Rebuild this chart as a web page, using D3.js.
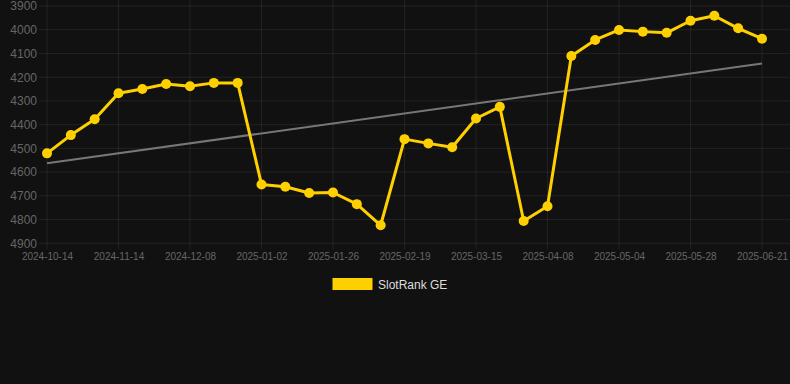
<!DOCTYPE html>
<html>
<head>
<meta charset="utf-8">
<script src="https://cdn.jsdelivr.net/npm/d3@7"></script>
<style>
  html, body { margin: 0; padding: 0; background: #111111; }
  svg { display: block; font-family: "Liberation Sans", Arial, Helvetica, sans-serif; }
</style>
</head>
<body>
<svg id="chart" width="790" height="384"></svg>
<script>
const dates = [
  "2024-10-14","2024-10-24","2024-11-03","2024-11-14","2024-11-22","2024-11-30",
  "2024-12-08","2024-12-16","2024-12-24","2025-01-02","2025-01-10","2025-01-18",
  "2025-01-26","2025-02-03","2025-02-11","2025-02-19","2025-02-27","2025-03-07",
  "2025-03-15","2025-03-23","2025-03-31","2025-04-08","2025-04-16","2025-04-26",
  "2025-05-04","2025-05-12","2025-05-20","2025-05-28","2025-06-05","2025-06-13",
  "2025-06-21"
];
const rankValues = [
  4521, 4444, 4377, 4268, 4250, 4229, 4238, 4224, 4224,
  4652, 4662, 4688, 4686, 4735, 4824,
  4461, 4479, 4495, 4374, 4325,
  4806, 4744,
  4111, 4043, 4001, 4008, 4013, 3962, 3941, 3994, 4038
];
const trendValues = [4563, 4142];
const yTicks = [3900, 4000, 4100, 4200, 4300, 4400, 4500, 4600, 4700, 4800, 4900];
const xTickLabels = ["2024-10-14","2024-11-14","2024-12-08","2025-01-02","2025-01-26",
  "2025-02-19","2025-03-15","2025-04-08","2025-05-04","2025-05-28","2025-06-21"];
const seriesName = "SlotRank GE";

const svg = d3.select("#chart");
const plotLeft = 47, plotRight = 762, plotTop = 6, plotBottom = 243.3, gridRight = 790;

const x = d3.scalePoint().domain(dates).range([plotLeft, plotRight]);
const y = d3.scaleLinear().domain([3900, 4900]).range([plotTop, plotBottom]);

const gridColor = "rgba(255,255,255,0.07)";

// horizontal grid
svg.append("g").selectAll("line").data(yTicks).join("line")
  .attr("x1", 39).attr("x2", gridRight)
  .attr("y1", d => y(d)).attr("y2", d => y(d))
  .attr("stroke", gridColor).attr("stroke-width", 1);

// vertical grid
svg.append("g").selectAll("line").data(xTickLabels).join("line")
  .attr("x1", d => x(d)).attr("x2", d => x(d))
  .attr("y1", 0).attr("y2", plotBottom + 6)
  .attr("stroke", gridColor).attr("stroke-width", 1);

// y axis labels
const yAxis = d3.axisLeft(y).tickValues(yTicks).tickSize(0).tickPadding(0).tickFormat(d3.format("d"));
const gy = svg.append("g").attr("transform", "translate(37,0)").call(yAxis);
gy.select(".domain").remove();
gy.selectAll("text").attr("fill", "#666").attr("font-size", 12)
  .attr("font-family", "Liberation Sans, Arial, sans-serif");

// x axis labels
const xAxis = d3.axisBottom(x).tickValues(xTickLabels).tickSize(0).tickPadding(0);
const gx = svg.append("g").attr("transform", `translate(0,${plotBottom + 10})`).call(xAxis);
gx.select(".domain").remove();
gx.selectAll("text").attr("fill", "#666").attr("font-size", 10)
  .attr("font-family", "Liberation Sans, Arial, sans-serif");

// trend line
svg.append("line")
  .attr("x1", x(dates[0])).attr("y1", y(trendValues[0]))
  .attr("x2", x(dates[dates.length - 1])).attr("y2", y(trendValues[1]))
  .attr("stroke", "#777").attr("stroke-width", 2);

const color = "#FFD000";
const line = d3.line().x((d, i) => x(dates[i])).y(d => y(d));
svg.append("path").datum(rankValues)
  .attr("d", line).attr("fill", "none")
  .attr("stroke", color).attr("stroke-width", 3).attr("stroke-linejoin", "round");

svg.append("g").selectAll("circle").data(rankValues).join("circle")
  .attr("cx", (d, i) => x(dates[i])).attr("cy", d => y(d))
  .attr("r", 5).attr("fill", color);

// legend
const lg = svg.append("g");
lg.append("rect").attr("x", 332.5).attr("y", 278).attr("width", 40).attr("height", 12)
  .attr("fill", color);
lg.append("text").attr("x", 378).attr("y", 284.5).attr("dominant-baseline", "central")
  .attr("fill", "#ddd").attr("font-size", 12).text(seriesName);
</script>
</body>
</html>
